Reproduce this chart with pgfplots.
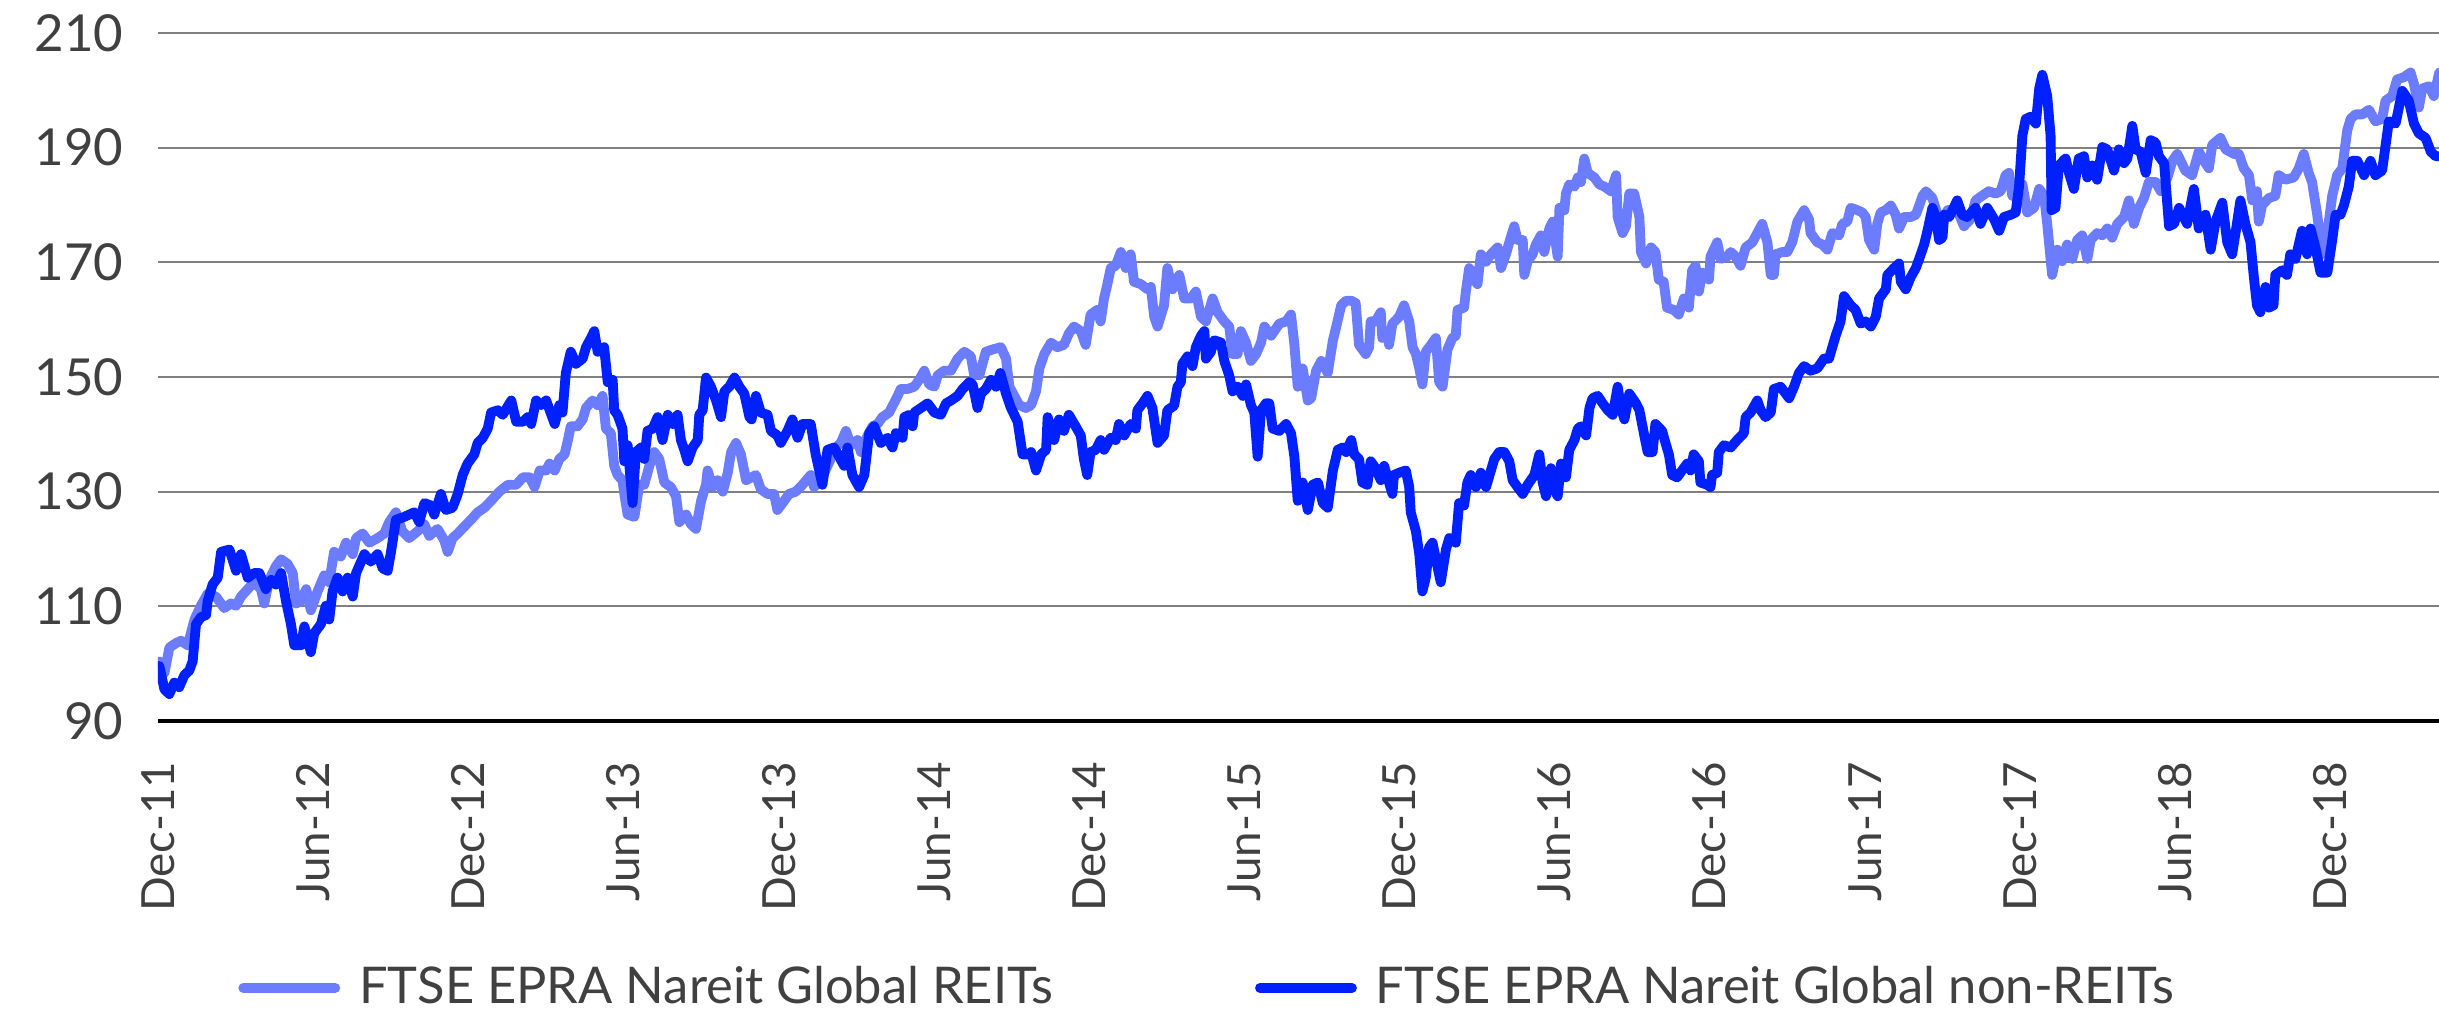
\documentclass[border=0pt]{standalone}
\usepackage{fontspec}
\setmainfont{Lato}
\usepackage{pgfplots}
\pgfplotsset{compat=1.18}
\definecolor{reit}{RGB}{107,124,255}
\definecolor{nonreit}{RGB}{0,32,255}
\definecolor{txt}{RGB}{64,64,64}
\definecolor{gridc}{RGB}{128,128,128}
\begin{document}
\begin{tikzpicture}
\begin{axis}[
 at={(0,0)}, anchor=south west,
 scale only axis, width=22.81cm, height=6.88cm,
 xmin=0, xmax=88.2, ymin=90, ymax=210,
 axis x line*=bottom, axis y line*=left,
 x axis line style={line width=1.2pt, black, -},
 y axis line style={draw=none},
 xtick={0,6,...,84},
 xticklabels={Dec-11,Jun-12,Dec-12,Jun-13,Dec-13,Jun-14,Dec-14,Jun-15,Dec-15,Jun-16,Dec-16,Jun-17,Dec-17,Jun-18,Dec-18},
 ytick={90,110,...,210},
 major tick length=0pt,
 ymajorgrids, grid style={gridc, line width=0.6pt},
 tick label style={text=txt},
 xticklabel style={font=\fontsize{13}{15}\selectfont, rotate=90, anchor=east, inner sep=0pt},
 xticklabel shift=0.4cm,
 yticklabel style={font=\fontsize{14.5}{16}\selectfont, anchor=east, inner sep=0pt},
 yticklabel shift=0.34cm,
 /pgf/number format/assume math mode=true,
 legend style={at={(0.461,-0.388)}, anchor=center, draw=none, fill=none,
   font=\fontsize{14.4}{16}\selectfont, text=txt, legend columns=2,
   /tikz/every odd column/.append style={column sep=0.12cm},
   /tikz/every even column/.append style={column sep=1.95cm}, inner sep=0pt},
 legend image code/.code={\draw[#1, line width=2.8pt, line cap=round] (0cm,0cm) -- (0.92cm,0cm);},
 every axis plot/.append style={line join=round, line cap=round},
]
\addplot[reit, line width=2.8pt] coordinates {
(0.05,100.4) (0.25,98.4) (0.44,102.8) (0.70,103.6) (0.89,104) (1.15,103.2) (1.41,107.7) (1.66,110.1) (1.92,112.2) (2.24,111.7) (2.56,109.7) (2.82,110.5) (3.02,110.1) (3.21,111.7) (3.47,113) (3.72,114.2) (3.98,113) (4.11,110.5) (4.30,114.6) (4.56,117) (4.76,118.2) (5.01,117.4) (5.21,115.8) (5.34,110.5) (5.53,110.9) (5.73,113) (5.91,109.3) (6.17,112.6) (6.43,115.4) (6.62,114.2) (6.81,119.5) (7.07,118.7) (7.27,121.1) (7.53,119.1) (7.66,121.9) (7.91,122.7) (8.17,121.1) (8.49,121.9) (8.75,122.7) (8.94,124.7) (9.20,126.4) (9.45,123.1) (9.71,121.9) (10.04,123.1) (10.30,124.3) (10.49,122.3) (10.81,123.5) (11.07,121.5) (11.20,119.5) (11.39,121.9)
(11.59,122.7) (11.84,123.9) (12.10,125.1) (12.36,126.4) (12.62,127.2) (12.88,128.4) (13.20,130) (13.53,131.2) (13.85,131.2) (14.11,132.5) (14.37,132.5) (14.56,130.8) (14.76,133.7) (15.01,133.7) (15.14,134.9) (15.34,133.7) (15.52,135.7) (15.72,136.5) (15.85,139) (15.96,141.4) (16.22,141.4) (16.42,142.6) (16.55,144.6) (16.80,145.9) (17.00,145.1) (17.19,146.7) (17.32,141) (17.51,140.2) (17.64,134.5) (17.77,132.9) (17.96,132) (18.03,129.6) (18.16,126) (18.42,125.6) (18.61,131.2) (18.80,131.2) (19.00,134.5) (19.19,136.9) (19.38,135.7) (19.58,131.6) (19.83,130.8) (20.03,129.2) (20.16,124.7) (20.42,126) (20.61,124.3) (20.80,123.5) (21.00,128.4) (21.19,131.2) (21.25,133.7) (21.45,130.8) (21.64,132) (21.84,130) (22.03,133.3) (22.16,136.9) (22.35,138.5) (22.54,136.5) (22.74,132) (22.95,132.5)
(23.12,132.9) (23.31,130.4) (23.57,129.6) (23.82,129.6) (23.95,126.8) (24.15,128) (24.40,129.6) (24.66,130) (24.92,131.2) (25.24,132.9) (25.37,130.8) (25.63,132) (25.89,134.5) (26.21,137.7) (26.40,138.5) (26.60,140.6) (26.79,138.1) (27.05,139) (27.18,136.9) (27.44,139.8) (27.63,141.4) (27.82,141.8) (28.01,143) (28.27,143.8) (28.60,146.7) (28.72,147.9) (28.98,147.9) (29.24,148.3) (29.43,149.5) (29.63,151.1) (29.82,148.7) (30.02,148.3) (30.15,150.3) (30.40,151.1) (30.66,151.1) (30.92,153.2) (31.18,154.4) (31.43,153.6) (31.56,150.3) (31.76,150.3) (32.01,154.4) (32.27,154.8) (32.59,155.2) (32.79,153.2) (32.92,148.3) (33.11,146.7) (33.30,145.1) (33.56,144.6) (33.76,145.1) (33.95,147.5) (34.08,151.5) (34.27,154) (34.53,156)
(34.77,155.2) (35.03,155.6) (35.22,157.6) (35.42,158.8) (35.68,158) (35.87,155.6) (36.06,160.9) (36.32,161.7) (36.45,159.7) (36.58,163.7) (36.71,166.2) (36.84,169) (37.03,169.4) (37.23,171.8) (37.42,169) (37.61,171.4) (37.74,166.6) (38.00,166.2) (38.26,165.3) (38.39,165.7) (38.52,160.5) (38.65,158.8) (38.90,162.5) (39.03,169) (39.23,165.3) (39.49,167.8) (39.68,163.7) (39.94,163.7) (40.13,164.9) (40.33,160.5) (40.52,159.7) (40.78,163.7) (40.97,161.3) (41.23,159.7) (41.42,158.8) (41.55,154) (41.74,154) (41.87,158) (42.07,156) (42.26,152.8) (42.46,154) (42.65,156) (42.78,158.8) (43.04,157.2) (43.36,159.3) (43.62,159.7) (43.81,160.9) (43.94,155.6) (44.07,148.3) (44.26,151.5) (44.46,145.9) (44.59,146.3) (44.78,151.1) (44.98,152.8) (45.23,150.7) (45.43,156.4) (45.56,158.8) (45.75,162.5) (45.94,163.3) (46.14,163.3)
(46.31,162.9) (46.44,155.6) (46.70,154) (46.83,155.2) (46.89,159.7) (47.08,159.7) (47.28,161.3) (47.34,156.8) (47.53,158) (47.60,155.6) (47.73,159.3) (47.99,160.5) (48.18,162.5) (48.38,159.7) (48.51,155.2) (48.64,154) (48.77,151.5) (48.89,148.7) (49.02,154.4) (49.22,155.6) (49.41,156.8) (49.54,149.1) (49.67,148.3) (49.86,154.8) (50.05,156.8) (50.18,157.2) (50.25,161.7) (50.50,162.1) (50.57,164.9) (50.70,169) (50.89,167) (51.02,166.2) (51.15,171.4) (51.35,170.1) (51.54,171.4) (51.80,172.6) (51.93,169) (52.12,171.4) (52.25,173.5) (52.44,176.3) (52.57,173.9) (52.77,173.9) (52.83,167.8) (52.96,170.2) (53.15,171.4) (53.28,173.1) (53.47,174.7) (53.60,171.8) (53.80,175.9) (53.93,177.1) (54.12,171) (54.19,179.5) (54.38,179.1) (54.44,182) (54.57,183.6) (54.77,183.2) (54.90,184.8) (55.02,184) (55.15,188.1) (55.28,185.6) (55.54,184.8) (55.73,183.6) (55.93,183.2) (56.18,182.4) (56.38,185.2) (56.44,177.9) (56.63,175.1) (56.76,176.3) (56.89,182) (57.08,182) (57.28,177.9) (57.34,171.8) (57.54,169.8) (57.73,172.6)
(57.90,171.8) (58.03,167) (58.22,166.6) (58.35,162.1) (58.61,161.7) (58.80,160.9) (59.00,163.7) (59.19,162.1) (59.32,168.6) (59.45,169.4) (59.58,164.9) (59.71,168.2) (59.97,167) (60.03,171) (60.29,173.5) (60.42,170.6) (60.68,171) (60.81,171.8) (61.00,171) (61.19,169.4) (61.39,172.6) (61.65,173.5) (61.84,175.1) (62.03,176.7) (62.23,173.5) (62.36,167.8) (62.48,167.8) (62.55,171.4) (62.81,171.8) (63.00,171.8) (63.19,173.5) (63.39,177.1) (63.65,179.1) (63.84,177.5) (63.90,175.1) (64.16,173.5) (64.36,173.1) (64.55,172.2) (64.74,175.1) (65.00,174.7) (65.13,176.7) (65.32,177.1) (65.45,179.5) (65.71,179.1) (65.90,178.7) (66.03,177.9) (66.16,173.9) (66.36,172.2) (66.48,176.7) (66.61,178.7) (66.81,179.1) (67.00,179.9) (67.19,178.3) (67.32,175.9) (67.52,177.9) (67.77,177.9) (67.97,178.3) (68.10,179.9) (68.23,181.6) (68.36,182.4) (68.61,181.2) (68.81,178.3) (69.00,177.5) (69.20,179.1)
(69.57,179.1) (69.83,176.3) (70.08,177.5) (70.28,180.8) (70.53,181.6) (70.79,182.4) (71.05,182) (71.25,182.4) (71.44,185.2) (71.57,185.6) (71.70,181.6) (71.89,183.2) (72.09,183.6) (72.28,178.7) (72.54,179.5) (72.74,182.8) (72.93,181.6) (73.05,176.7) (73.24,167.8) (73.44,172.2) (73.63,170.2) (73.82,173.1) (74.02,170.6) (74.21,173.9) (74.40,174.7) (74.60,170.6) (74.73,173.9) (74.98,175.1) (75.18,174.7) (75.37,175.9) (75.56,174.3) (75.76,176.7) (76.02,177.9) (76.21,180.8) (76.40,176.7) (76.60,179.5) (76.79,181.2) (76.98,184) (77.24,184) (77.44,182.4) (77.70,184.8) (77.89,187.7) (78.08,188.9)
(78.39,186) (78.65,185.2) (78.91,189.3) (79.17,187.3) (79.30,186.4) (79.43,190.5) (79.75,191.7) (79.95,189.7) (80.27,188.9) (80.46,188.9) (80.65,186.4) (80.85,185.2) (80.98,180.8) (81.16,182.4) (81.23,177.1) (81.36,180) (81.62,181.2) (81.87,181.6) (82.00,185.2) (82.26,184.4) (82.58,184.8) (82.78,186.4) (82.97,188.9) (83.16,185.6) (83.29,184) (83.49,178.3) (83.68,171.4) (83.88,175.1) (84.07,181.6) (84.26,185.2) (84.46,186.4) (84.65,193) (84.78,195) (84.97,195.8) (85.23,195.8) (85.49,196.6) (85.74,194.6) (86.00,195) (86.13,198.2) (86.39,199) (86.58,201.9) (86.84,202.3) (87.10,203.1) (87.23,201.1) (87.42,197) (87.55,200.3) (87.81,200.7) (88.00,199) (88.21,203.1)
};
\addlegendentry{FTSE EPRA Nareit Global REITs}
\addplot[nonreit, line width=2.8pt] coordinates {
(0.05,99.6) (0.25,95.5) (0.44,94.7) (0.63,96.7) (0.82,95.9) (1.02,98) (1.21,98.8) (1.34,100.4) (1.47,106.9) (1.66,108.1) (1.86,108.5) (1.92,110.9) (2.11,113.8) (2.31,115) (2.44,119.5) (2.76,119.9) (3.02,116.2) (3.21,119.1) (3.47,115) (3.72,115.8) (3.92,115.8) (4.17,113) (4.37,114.6) (4.56,113.8) (4.76,115.8) (4.95,110.9) (5.14,106.9) (5.27,103.2) (5.53,103.2) (5.66,106.5) (5.91,102) (6.04,105.3) (6.30,106.9) (6.49,110.1) (6.62,107.7) (6.75,112.6) (6.94,115) (7.14,112.6) (7.33,115) (7.53,111.7) (7.66,115.8) (7.98,119.1) (8.23,117.8) (8.49,119.1) (8.69,116.6) (8.88,116.2) (9.01,119.5) (9.20,125.1) (9.52,125.6) (9.91,126.4) (10.10,124.7) (10.30,128) (10.55,127.6) (10.68,126) (10.94,129.6) (11.13,126.8) (11.39,127.2) (11.59,129.6)
(11.78,132.9) (11.97,134.9) (12.23,136.5) (12.36,138.5) (12.56,139.4) (12.75,141) (12.88,143.8) (13.14,144.2) (13.33,143.4) (13.66,145.9) (13.85,142.2) (14.11,142.2) (14.30,143) (14.43,141.8) (14.62,145.9) (14.82,145.1) (15.01,145.9) (15.21,143.4) (15.34,141.8) (15.52,145.1) (15.64,143.8) (15.77,150.7) (15.96,154.4) (16.16,152.3) (16.42,153.2) (16.55,155.2) (16.74,156.8) (16.87,158) (17.00,154.4) (17.25,155.2) (17.39,149.1) (17.58,149.5) (17.64,144.2) (17.77,143.4) (17.96,141) (18.03,135.3) (18.16,138.1) (18.35,128) (18.48,136.9) (18.68,137.7) (18.80,135.7) (18.93,140.6) (19.13,141) (19.32,143) (19.51,139) (19.71,143.4) (19.90,141.8) (20.09,143.4) (20.22,139) (20.35,137.3) (20.48,135.3) (20.67,137.7) (20.87,139) (20.93,143.4) (21.06,144.2) (21.19,149.9) (21.38,148.3) (21.58,145.9) (21.77,143) (21.90,147.5) (22.09,148.3) (22.29,149.9) (22.48,148.3) (22.67,147.1) (22.87,143) (22.95,142.6)
(23.12,146.7) (23.31,143.8) (23.57,143.4) (23.70,140.6) (23.95,139.8) (24.08,138.5) (24.34,140.6) (24.53,142.6) (24.73,139.4) (24.92,141.8) (25.24,141.8) (25.43,136.5) (25.69,131.2) (25.89,137.3) (26.14,137.7) (26.34,136.1) (26.53,134.5) (26.66,137.7) (26.85,132.9) (27.11,130.8) (27.31,132.9) (27.50,140.2) (27.69,141.4) (27.95,138.5) (28.21,139.4) (28.40,137.7) (28.53,140.2) (28.79,139.4) (28.86,143) (29.05,143.4) (29.18,141.4) (29.24,143.8) (29.50,144.6) (29.76,145.4) (30.02,143.8) (30.27,143.4) (30.47,145.4) (30.66,145.9) (30.92,146.7) (31.11,147.9) (31.37,149.1) (31.50,148.7) (31.69,144.6) (31.82,147.1) (32.01,147.9) (32.21,149.5) (32.40,148.3) (32.57,150.7) (32.79,147.1) (32.98,144.6) (33.24,142.2) (33.43,136.5) (33.63,136.5) (33.76,136.9) (33.95,133.7) (34.15,136.5) (34.34,137.3) (34.40,143) (34.52,141)
(34.65,139) (34.84,142.6) (35.03,140.6) (35.22,143.4) (35.48,141.4) (35.68,139.8) (35.80,135.7) (35.93,132.9) (36.06,136.9) (36.26,137.3) (36.45,139) (36.58,137.3) (36.84,139.4) (37.03,139) (37.16,141.8) (37.36,139.8) (37.61,141.8) (37.81,141) (37.87,144.2) (38.07,145.4) (38.26,146.7) (38.45,144.6) (38.65,138.5) (38.90,139.8) (39.03,144.2) (39.29,145) (39.42,148.3) (39.55,149.1) (39.61,152.3) (39.81,153.6) (40.00,151.9) (40.13,155.2) (40.33,157.2) (40.46,158) (40.52,153.2) (40.71,154.4) (40.84,156.4) (41.10,156) (41.23,152.8) (41.42,150.3) (41.55,147.5) (41.74,148.3) (41.94,146.7) (42.07,148.7) (42.26,145.1) (42.39,143.8) (42.52,136.1) (42.65,144.2) (42.84,145.4) (42.97,145.4) (43.10,141) (43.36,140.6) (43.62,141.8) (43.81,140.2) (43.94,136.1) (44.07,128.4) (44.26,131.6) (44.46,126.8) (44.65,131.2) (44.85,131.6) (45.04,128) (45.23,127.2) (45.43,133.7) (45.62,137.3) (45.81,137.7) (45.94,136.9) (46.14,139)
(46.25,136.5) (46.44,135.7) (46.57,131.6) (46.76,131.2) (46.89,135.3) (47.08,134.1) (47.28,132) (47.41,134.5) (47.60,131.6) (47.73,129.6) (47.79,132.9) (47.99,133.3) (48.25,133.7) (48.38,130.8) (48.44,126.4) (48.64,123.1) (48.77,119.1) (48.89,112.6) (49.02,115) (49.15,120.3) (49.28,121.1) (49.47,117) (49.60,114.2) (49.80,119.9) (49.93,121.9) (50.18,121.1) (50.31,128) (50.50,127.6) (50.63,131.6) (50.76,132.9) (50.96,130.8) (51.15,133.3) (51.35,130.8) (51.54,133.7) (51.67,135.7) (51.86,136.9) (52.06,136.9) (52.25,135.3) (52.38,132) (52.57,130.8) (52.77,129.6) (52.96,131.2) (53.22,132.9) (53.41,136.5) (53.54,131.6) (53.67,129.2) (53.86,134.1) (53.99,130.4) (54.12,129.2) (54.25,134.9) (54.44,132.5) (54.57,137.3) (54.77,139) (54.90,141) (55.02,141.4) (55.22,139.8) (55.35,144.6) (55.47,146.3) (55.67,146.7) (55.86,145.4) (56.06,144.2) (56.25,143.4) (56.44,148.3) (56.57,144.6) (56.70,142.6) (56.89,147.1) (57.15,145.4) (57.28,144.2) (57.47,139.8) (57.60,136.9) (57.79,136.9)
(57.90,141.8) (58.16,140.6) (58.29,138.5) (58.42,136.5) (58.55,132.9) (58.74,132.5) (58.93,133.7) (59.13,134.9) (59.26,133.7) (59.38,136.5) (59.58,135.3) (59.64,131.6) (59.90,131.2) (60.03,130.8) (60.09,132.9) (60.29,133.3) (60.35,136.9) (60.55,138.1) (60.81,137.7) (61.06,139) (61.32,140.2) (61.39,143) (61.58,143.8) (61.84,145.9) (61.97,144.2) (62.16,143) (62.36,143.8) (62.48,147.9) (62.74,148.3) (63.07,146.3) (63.26,148.3) (63.45,150.7) (63.65,151.9) (63.90,151.1) (64.16,151.5) (64.42,153.2) (64.61,153.2) (64.74,155.2) (64.87,157.2) (65.06,159.7) (65.19,164.1) (65.45,162.5) (65.64,161.7) (65.84,159.3) (66.03,159.7) (66.23,158.8) (66.42,160.5) (66.55,163.7) (66.81,165.3) (66.87,167.8) (67.13,169) (67.32,169.8) (67.39,166.6) (67.58,165.3) (67.77,167.4) (67.97,169) (68.10,170.6) (68.29,173.1) (68.42,175.5) (68.61,179.5) (68.74,177.9) (68.87,173.9) (69.00,174.3) (69.07,178.3) (69.26,177.9)
(69.57,180.8) (69.76,178.3) (69.95,177.9) (70.28,179.5) (70.47,176.7) (70.73,179.5) (71.00,177.5) (71.19,175.5) (71.38,177.9) (71.64,178.3) (71.83,178.7) (71.96,183.2) (72.09,192.1) (72.22,195) (72.41,195.4) (72.61,194.2) (72.74,200.3) (72.86,202.7) (73.05,199) (73.18,192.1) (73.22,179.1) (73.37,179.5) (73.50,186.9) (73.76,188.1) (73.89,185.6) (74.08,182.8) (74.27,188.1) (74.47,188.5) (74.60,184.8) (74.79,186.9) (74.98,184.4) (75.18,190.1) (75.37,189.7) (75.63,186) (75.82,189.7) (76.02,187.3) (76.15,188.1) (76.34,193.8) (76.47,189.7) (76.66,189.3) (76.86,185.6) (77.05,191.3) (77.24,190.9) (77.37,188.5) (77.57,187.3) (77.76,176.3) (77.95,176.7) (78.15,179.5)
(78.46,176.7) (78.72,182.8) (78.91,175.9) (79.17,178.3) (79.37,172.2) (79.56,177.1) (79.82,180.4) (80.01,173.5) (80.20,171.4) (80.33,175.1) (80.52,180.8) (80.71,176.7) (80.91,173.5) (81.04,167.4) (81.16,162.5) (81.29,161.3) (81.49,165.7) (81.62,162.1) (81.80,162.5) (81.87,167.8) (82.13,168.6) (82.32,167.8) (82.45,171.4) (82.65,170.6) (82.90,175.5) (83.10,171.4) (83.23,175.9) (83.42,172.6) (83.62,168.2) (83.88,168.2) (84.07,173.9) (84.20,178.3) (84.39,178.3) (84.52,179.9) (84.71,183.2) (84.84,187.7) (85.04,187.7) (85.30,185.2) (85.55,187.7) (85.74,185.2) (86.00,186) (86.26,194.6) (86.52,194.2) (86.78,199.9) (87.03,198.2) (87.23,194.2) (87.42,192.5) (87.68,191.7) (87.88,189.3) (88.07,188.5) (88.21,188.5)
};
\addlegendentry{FTSE EPRA Nareit Global non-REITs}
\end{axis}
\pgfresetboundingbox
\path[use as bounding box] (-1.58cm,-2.96cm) rectangle (22.81cm,7.21cm);
\end{tikzpicture}
\end{document}
